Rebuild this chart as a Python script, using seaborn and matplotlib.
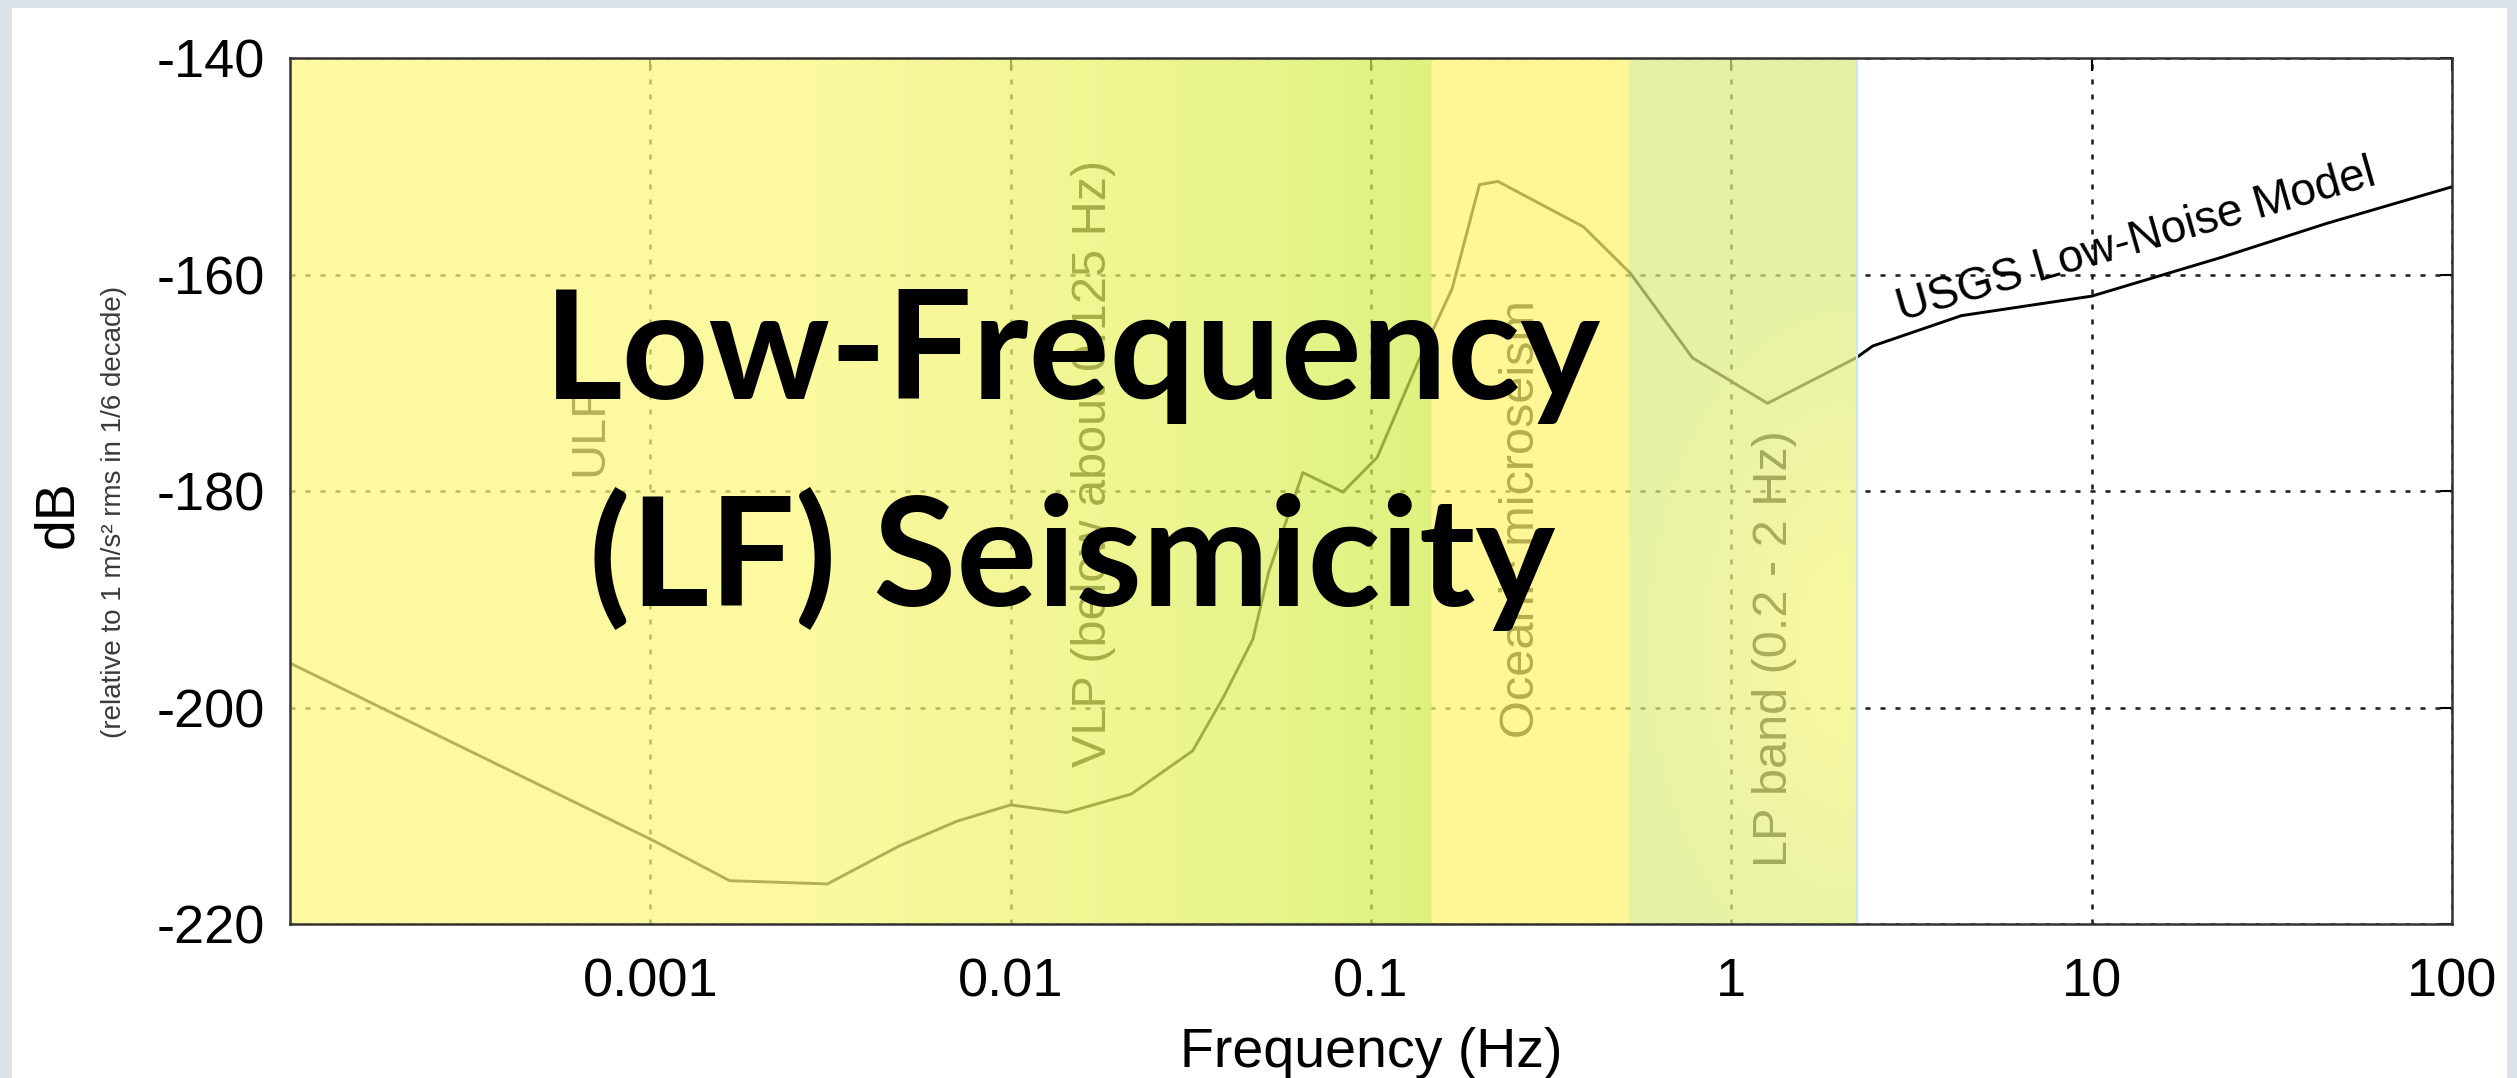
import numpy as np
import matplotlib
matplotlib.use("Agg")
import matplotlib.pyplot as plt
from matplotlib.patches import Rectangle
from matplotlib.ticker import FixedLocator, FixedFormatter, NullLocator
import seaborn as sns

# USGS low-noise model (frequency in Hz, level in dB)
freq_hz = [1e-4, 0.00102, 0.00166, 0.0031, 0.0049, 0.0071, 0.0100, 0.0143, 0.0216,
           0.032, 0.039, 0.047, 0.052, 0.0647, 0.0836, 0.104, 0.135, 0.168, 0.20,
           0.225, 0.389, 0.525, 0.78, 1.26, 2.22, 2.47, 4.35, 10.0, 23.0, 44.7, 100.0]
level_db = [-195.9, -212.3, -216.0, -216.3, -212.8, -210.5, -209.0, -209.7, -208.0,
            -204.0, -199.0, -193.7, -187.5, -178.3, -180.1, -176.9, -168.1, -161.3, -151.7,
            -151.4, -155.6, -159.9, -167.7, -171.9, -167.7, -166.6, -163.8, -162.0, -158.4, -155.3, -151.9]

# Frequency bands (Hz)
band_edges = [1e-4, 0.147, 0.52, 2.23]
band_labels = ["ULF", "VLP (below about 0.125 Hz)", "Oceanic microseism", "LP band (0.2 - 2 Hz)"]
band_label_x = [6.8e-4, 0.017, 0.262, 1.32]
band_label_y = [-178.6, -205.5, -202.8, -214.7]

x_ticks = [0.001, 0.01, 0.1, 1, 10, 100]
x_tick_labels = ["0.001", "0.01", "0.1", "1", "10", "100"]
y_ticks = [-220, -200, -180, -160, -140]
x_range = (1e-4, 100)
y_range = (-220, -140)

sns.set_theme(style="white")
plt.rcParams["font.family"] = ["Liberation Sans", "DejaVu Sans"]
plt.rcParams["axes.unicode_minus"] = False

W, H = 2517, 1078
fig = plt.figure(figsize=(W / 100, H / 100), dpi=100)
fig.patch.set_facecolor("#dbe2ea")
fig.patches.append(Rectangle((12 / W, 0), (2507 - 12) / W, 1 - 8 / H,
                             transform=fig.transFigure, facecolor="white",
                             edgecolor="none", zorder=-10))
ax = fig.add_axes([290 / W, 1 - 924 / H, (2452 - 290) / W, (924 - 58) / H])
ax.set_zorder(1)
ax.set_facecolor("white")

sns.lineplot(x=freq_hz, y=level_db, ax=ax, color="black", linewidth=2.1, zorder=1)
ax.set_xscale("log")
ax.set_xlim(*x_range)
ax.set_ylim(*y_range)

# dotted grid
ax.xaxis.set_major_locator(FixedLocator(x_ticks))
ax.xaxis.set_major_formatter(FixedFormatter(x_tick_labels))
ax.xaxis.set_minor_locator(NullLocator())
ax.set_yticks(y_ticks)
ax.grid(True, which="major", color="#1a1a1a", linestyle=(0, (2, 4)), linewidth=1.8, zorder=0.5)
ax.set_axisbelow(True)

ax.tick_params(axis="both", which="major", direction="in", length=9, width=1.5,
               labelsize=39, colors="black", top=True, right=True)
ax.tick_params(axis="x", pad=24)
ax.tick_params(axis="y", pad=18)
for s in ax.spines.values():
    s.set_color("#333333")
    s.set_linewidth(1.8)

# band labels (sit under the translucent band colours)
for lab, lx, ly in zip(band_labels, band_label_x, band_label_y):
    ax.text(lx, ly, lab, rotation=90, ha="center", va="bottom", fontsize=35,
            color="black", zorder=1)

# translucent band overlays
alpha = 0.72


def overlay(rgb):
    eff = np.asarray(rgb, dtype=float) / 255.0
    return np.clip((eff - (1 - alpha)) / alpha, 0, 1)


def xfrac(v):
    return ax.transAxes.inverted().transform(ax.transData.transform((v, y_range[0])))[0]


# band 1: pale yellow shading to yellow-green
stops_logf = [-4.0, -2.6, -2.0, -1.3, np.log10(band_edges[1])]
stops_rgb = [(255, 251, 164), (253, 250, 160), (244, 247, 150), (232, 245, 139), (222, 242, 127)]
n = 400
lf = np.linspace(np.log10(band_edges[0]), np.log10(band_edges[1]), n)
cols = np.stack([np.interp(lf, stops_logf, [c[k] for c in stops_rgb]) for k in range(3)], axis=-1)
img1 = np.ones((1, n, 4))
img1[0, :, :3] = overlay(cols)
img1[0, :, 3] = alpha
ax.imshow(img1, extent=(xfrac(band_edges[0]), xfrac(band_edges[1]), 0, 1),
          transform=ax.transAxes, aspect="auto", interpolation="bilinear", zorder=2)

# band 2: oceanic microseism
img2 = np.ones((1, 1, 4))
img2[0, 0, :3] = overlay((255, 247, 150))
img2[0, 0, 3] = alpha
ax.imshow(img2, extent=(xfrac(band_edges[1]), xfrac(band_edges[2]), 0, 1),
          transform=ax.transAxes, aspect="auto", interpolation="nearest", zorder=2)

# band 3: LP band, green-yellow with a warmer centre on the right
hh, ww = 120, 80
u = np.linspace(0, 1, ww)[None, :]
v = np.linspace(0, 1, hh)[:, None]
wgt = np.exp(-((u - 1.0) / 0.75) ** 2 - ((v - 0.32) / 0.32) ** 2)
green = np.array([229, 241, 167], dtype=float)
yellow = np.array([248, 248, 161], dtype=float)
rgb3 = green[None, None, :] * (1 - wgt[..., None]) + yellow[None, None, :] * wgt[..., None]
img3 = np.ones((hh, ww, 4))
img3[..., :3] = overlay(rgb3)
img3[..., 3] = alpha
ax.imshow(img3, extent=(xfrac(band_edges[2]), xfrac(band_edges[3]), 0, 1), origin="lower",
          transform=ax.transAxes, aspect="auto", interpolation="bilinear", zorder=2)
ax.axvline(band_edges[3], color="#cfe5f5", linewidth=1.6, zorder=2.1)

ax.set_xlim(*x_range)
ax.set_ylim(*y_range)

ax.text(13.55, -158.0, "USGS Low-Noise Model", rotation=16, rotation_mode="anchor",
        ha="center", va="baseline", fontsize=33, color="black", zorder=3)

ax.set_xlabel("Frequency (Hz)", fontsize=40, labelpad=14, color="black")
fig.text(58 / W, 1 - 514 / H, "dB", rotation=90, ha="center", va="center",
         fontsize=40, color="black")
fig.text(114 / W, 1 - 512 / H, "(relative to 1 m/s² rms in 1/6 decade)", rotation=90,
         ha="center", va="center", fontsize=20, color="#3a3a3a")

title_kw = dict(fontsize=109, fontweight="bold", family=["Lato", "DejaVu Sans"],
                ha="center", va="baseline", color="black", zorder=10)
fig.text(1072 / W, 1 - 399 / H, "Low-Frequency", **title_kw)
fig.text(1072 / W, 1 - 606 / H, "(LF) Seismicity", **title_kw)

fig.savefig("out.png", dpi=100, facecolor=fig.get_facecolor())
